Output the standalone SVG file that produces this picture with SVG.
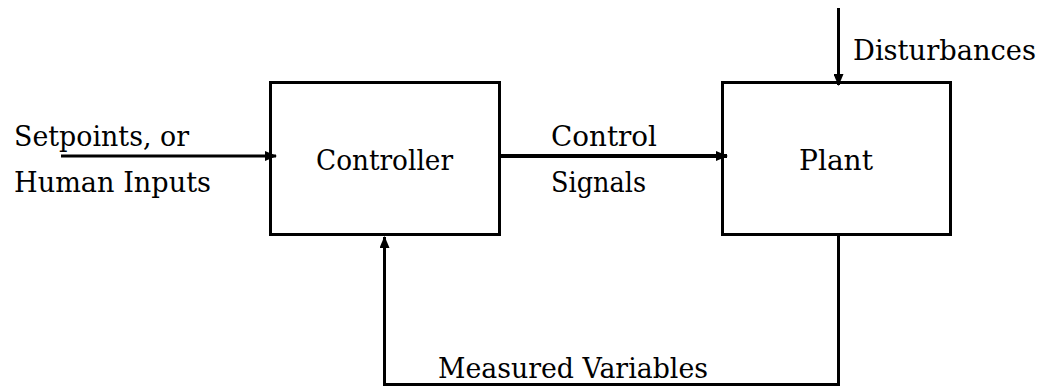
<svg xmlns="http://www.w3.org/2000/svg" width="1039" height="388" viewBox="0 0 1039 388">
<style>
.box{fill:none;stroke:#000;stroke-width:3}
.ln{fill:none;stroke:#000;stroke-width:3}
.thick{stroke-width:4}
.t{font-family:"DejaVu Serif","Liberation Serif",serif;font-size:28px;fill:#000}
</style>
<defs>
<marker id="ah" markerWidth="12" markerHeight="10" refX="11" refY="5" orient="auto" markerUnits="userSpaceOnUse">
<path d="M0,0 L12,5 L0,10 Z" fill="#000"/>
</marker>
</defs>
<rect width="1039" height="388" fill="#fff"/>
<g id="controller">
<rect class="box" x="270.5" y="82.5" width="229" height="152"/>
<text class="t" x="316" y="170" textLength="137" lengthAdjust="spacingAndGlyphs">Controller</text>
</g>
<g id="plant">
<rect class="box" x="722.5" y="82.5" width="228" height="152"/>
<text class="t" x="799" y="170" textLength="74" lengthAdjust="spacingAndGlyphs">Plant</text>
</g>
<g id="connectors">
<line class="ln" x1="61" y1="156" x2="276" y2="156" marker-end="url(#ah)"/>
<line class="ln thick" x1="500" y1="156" x2="727" y2="156" marker-end="url(#ah)"/>
<line class="ln" x1="838.5" y1="8" x2="838.5" y2="85" marker-end="url(#ah)"/>
<polyline class="ln" points="838.5,235 838.5,384.5 384.5,384.5 384.5,237" marker-end="url(#ah)"/>
</g>
<g id="labels">
<text class="t" x="14" y="146" textLength="175" lengthAdjust="spacingAndGlyphs">Setpoints, or</text>
<text class="t" x="14" y="192" textLength="197" lengthAdjust="spacingAndGlyphs">Human Inputs</text>
<text class="t" x="551" y="146" textLength="106" lengthAdjust="spacingAndGlyphs">Control</text>
<text class="t" x="551" y="192" textLength="95" lengthAdjust="spacingAndGlyphs">Signals</text>
<text class="t" x="853" y="60" textLength="183" lengthAdjust="spacingAndGlyphs">Disturbances</text>
<text class="t" x="438" y="378" textLength="270" lengthAdjust="spacingAndGlyphs">Measured Variables</text>
</g>
</svg>
